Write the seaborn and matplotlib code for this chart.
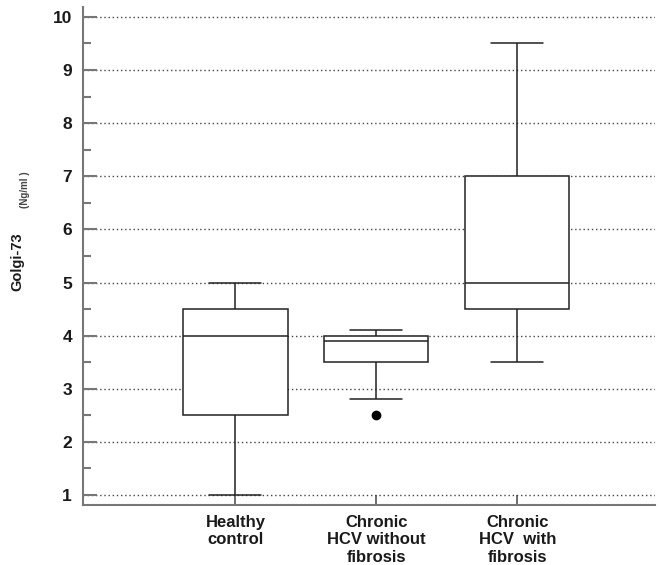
import pandas as pd
import matplotlib.pyplot as plt
import seaborn as sns
from matplotlib.ticker import MultipleLocator

# Values (five-number summaries + outlier)
healthy = [1.0, 2.5, 4.0, 4.5, 5.0]
hcv_no_fibrosis = [2.5, 2.8, 3.5, 3.7, 3.9, 3.95, 4.0, 4.05, 4.1]
hcv_fibrosis = [3.5, 4.5, 5.0, 7.0, 9.5]
groups = ["Healthy\ncontrol", "Chronic\nHCV without\nfibrosis", "Chronic\nHCV  with\nfibrosis"]
y_ticks = [1, 2, 3, 4, 5, 6, 7, 8, 9, 10]

df = pd.DataFrame({
    "group": [groups[0]] * len(healthy) + [groups[1]] * len(hcv_no_fibrosis) + [groups[2]] * len(hcv_fibrosis),
    "value": healthy + hcv_no_fibrosis + hcv_fibrosis,
})

sns.set_style("white")
plt.rcParams['font.family'] = ['Liberation Sans', 'DejaVu Sans']

fig, ax = plt.subplots(figsize=(6.6, 5.65), dpi=100)
fig.subplots_adjust(left=0.126, right=0.993, top=0.987, bottom=0.106)

line_col = "#222222"
sns.boxplot(data=df, x="group", y="value", order=groups, width=0.74,
            color="white", linecolor=line_col, linewidth=1.1,
            whis=1.5, showcaps=True,
            flierprops=dict(marker="o", markersize=6, markerfacecolor="black",
                            markeredgecolor="black"),
            medianprops=dict(color=line_col, linewidth=1.1),
            ax=ax, zorder=3)

ax.set_xlim(-1.08, 2.98)
ax.set_ylim(0.81, 10.18)
ax.set_yticks(y_ticks)
ax.yaxis.set_minor_locator(MultipleLocator(0.5))
ax.yaxis.grid(True, which="major", linestyle=(0, (1, 2)), color="#444444", linewidth=1.0)
ax.set_axisbelow(True)

for side in ["top", "right"]:
    ax.spines[side].set_visible(False)
for side in ["left", "bottom"]:
    ax.spines[side].set_color("#777777")
    ax.spines[side].set_linewidth(1.5)

ax.tick_params(axis="y", which="major", direction="in", length=10, width=1.5, color="#777777",
               labelsize=12.5, pad=8, left=True)
ax.tick_params(axis="y", which="minor", direction="in", length=6, width=1.5, color="#777777", left=True)
ax.tick_params(axis="x", direction="in", length=7, width=1.2, color="#555555",
               labelsize=12, pad=7, bottom=True)
for lab in ax.get_yticklabels() + ax.get_xticklabels():
    lab.set_fontweight("bold")
    lab.set_color("#1a1a1a")

ax.set_xlabel("")
ax.set_ylabel("")
fig.text(0.027, 0.536, "Golgi-73", rotation=90, fontsize=10.5, fontweight="bold",
         ha="center", va="center", color="#1a1a1a")
fig.text(0.038, 0.664, "(Ng/ml )", rotation=90, fontsize=7, fontweight="bold",
         ha="center", va="center", color="#444444")

plt.savefig("out.png")
